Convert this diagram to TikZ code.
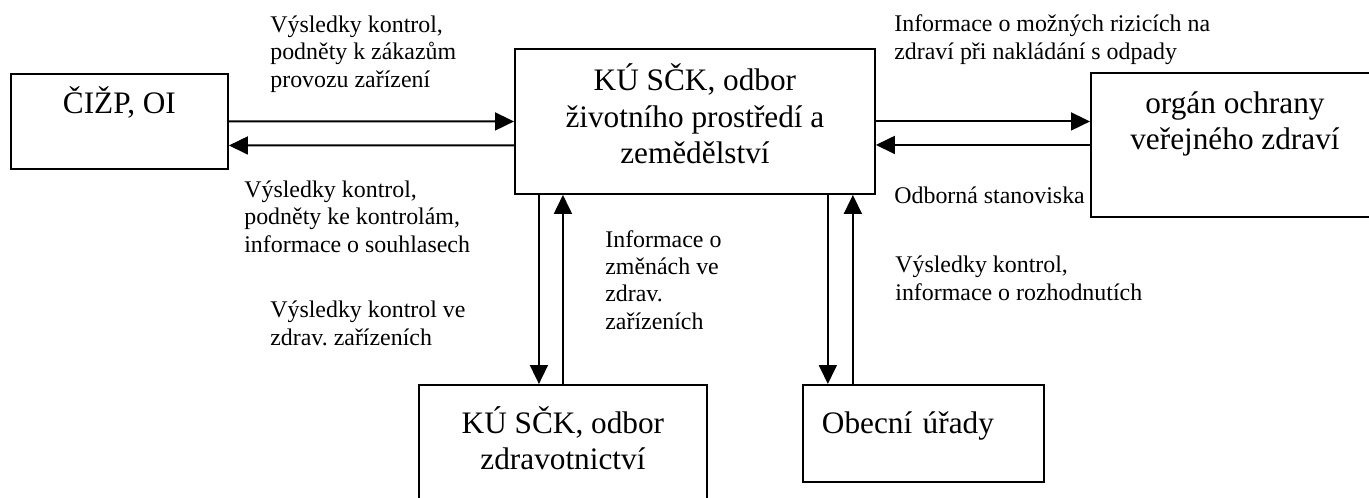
\documentclass[tikz,border=0pt]{standalone}
\usepackage{fontspec}
\setmainfont{Liberation Serif}
\usepackage{tikz}
\usetikzlibrary{arrows.meta,calc}
\newcommand{\boxfont}{\fontsize{17.8pt}{21pt}\selectfont}
\newcommand{\lblfont}{\fontsize{13.6pt}{15.4pt}\selectfont}
\frenchspacing
\begin{document}
\begin{tikzpicture}[x=0.02cm,y=-0.02cm,>={Triangle[length=10.8pt,width=10.2pt]},
  box/.style={draw,line width=1.1pt,inner sep=0pt,anchor=north west,font=\boxfont,align=center},
  lbl/.style={inner sep=0pt,anchor=base west,align=left,font=\lblfont},
  flow/.style={->,line width=1.1pt}]
\useasboundingbox (0,0) rectangle (1369,497);
\clip (0,0) rectangle (1369,497);
\node (cizp) [box,minimum width=4.34cm,text height=0.8cm,text depth=1.1cm] at (10,73) {ČIŽP, OI};
\node (main) [box,minimum width=7.2cm,text height=2.3cm,text depth=0.6cm] at (514,48) {KÚ SČK, odbor\\životního prostředí a\\zemědělství};
\node (organ) [box,minimum width=5.76cm,text height=1.54cm,text depth=1.34cm] at (1090,72) {orgán ochrany\\veřejného zdraví};
\node (zdrav) [box,minimum width=5.76cm,text height=1.7cm,text depth=0.9cm] at (418,384) {KÚ SČK, odbor\\zdravotnictví};
\node (obec) [box,inner xsep=0.38cm,text width=4.06cm,align=left,text height=0.98cm,text depth=0.96cm] at (802,384) {Obecní úřady};
% popisky (bod = účaří posledního řádku)
\node (l1) [lbl] at (270,87) {Výsledky kontrol,\\podněty k zákazům\\provozu zařízení};
\node (l2) [lbl] at (244,252) {Výsledky kontrol,\\podněty ke kontrolám,\\informace o souhlasech};
\node (l3) [lbl] at (270,345) {Výsledky kontrol ve\\zdrav. zařízeních};
\node (l4) [lbl] at (605,329) {Informace o\\změnách ve\\zdrav.\\zařízeních};
\node (l5) [lbl] at (894,59) {Informace o možných rizicích na\\zdraví při nakládání s odpady};
\node (l6) [lbl] at (894,203) {Odborná stanoviska};
\node (l7) [lbl] at (895,300) {Výsledky kontrol,\\informace o rozhodnutích};
% sipky
\draw[flow] (cizp.east)--(main.west);
\draw[flow] ($(main.west)+(0,24)$)--($(cizp.east)+(0,24)$);
\draw[flow] (main.east)--(main.east -| organ.west);
\draw[flow] (organ.west)--(organ.west -| main.east);
\draw[flow] ($(zdrav.north |- main.south)+(-24,0)$)--($(zdrav.north)+(-24,0)$);
\draw[flow] (zdrav.north)--(zdrav.north |- main.south);
\draw[flow] ($(main.south east)+(-48,0)$)--($(main.south east |- obec.north)+(-48,0)$);
\draw[flow] ($(main.south east |- obec.north)+(-23,0)$)--($(main.south east)+(-23,0)$);
\end{tikzpicture}
\end{document}
